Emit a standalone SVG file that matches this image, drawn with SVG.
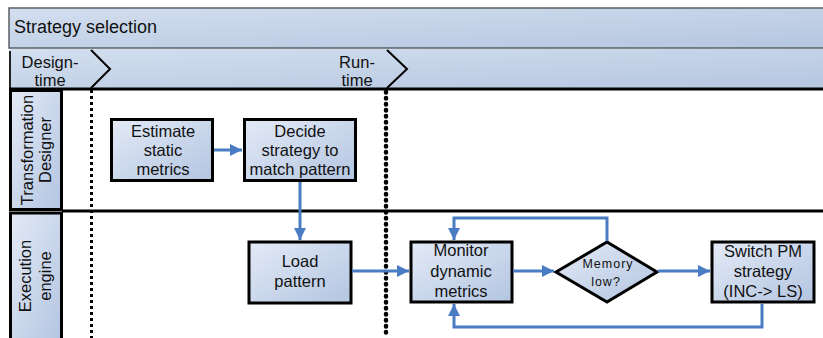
<svg xmlns="http://www.w3.org/2000/svg" width="823" height="338" viewBox="0 0 823 338">
  <defs>
    <linearGradient id="barFill" x1="0" y1="0" x2="1" y2="1">
      <stop offset="0" stop-color="#d3dfef"/>
      <stop offset="1" stop-color="#b5c6e0"/>
    </linearGradient>
    <linearGradient id="boxFill" x1="0" y1="0" x2="1" y2="1">
      <stop offset="0" stop-color="#e3eaf6"/>
      <stop offset="1" stop-color="#b3c5e1"/>
    </linearGradient>
    <marker id="arrow" viewBox="0 0 10 10" refX="10" refY="5" markerWidth="4" markerHeight="4" orient="auto" markerUnits="strokeWidth">
      <path d="M0,0 L10,5 L0,10 z" fill="#4a7cc4"/>
    </marker>
  </defs>
  <style>
    text { font-family: "Liberation Sans", Arial, sans-serif; fill: #111; }
    .box { fill: url(#boxFill); stroke: #000; stroke-width: 3; }
    .lbl { font-size: 16.5px; text-anchor: middle; }
    .small { font-size: 12.5px; text-anchor: middle; letter-spacing: 1px; }
    .flow { fill: none; stroke: #4a7cc4; stroke-width: 3; marker-end: url(#arrow); }
    .sep { stroke: #000; stroke-width: 3; }
  </style>

  <!-- title bar -->
  <g id="title">
    <rect x="9" y="8" width="820" height="40" fill="url(#barFill)" stroke="#5a5f66" stroke-width="1.5"/>
    <text x="14" y="33" font-size="18">Strategy selection</text>
  </g>

  <!-- phase bar -->
  <g id="phases">
    <rect x="9" y="49" width="820" height="40" fill="url(#barFill)"/>
    <line x1="10" y1="51" x2="10" y2="89" stroke="#222" stroke-width="2"/>
    <polyline points="91,50 110,69 91,88" fill="none" stroke="#000" stroke-width="2"/>
    <polyline points="387,50 407,69 387,88" fill="none" stroke="#000" stroke-width="2"/>
    <line x1="9" y1="89" x2="823" y2="89" class="sep"/>
    <text x="50" y="68" class="lbl">Design-</text>
    <text x="50" y="86" class="lbl">time</text>
    <text x="357" y="68" class="lbl">Run-</text>
    <text x="357" y="86" class="lbl">time</text>
  </g>

  <!-- lanes -->
  <g id="lane-designer">
    <rect x="10.5" y="90.5" width="51" height="119" class="box"/>
    <text transform="translate(33,150) rotate(-90)" class="lbl">Transformation</text>
    <text transform="translate(51,150) rotate(-90)" class="lbl">Designer</text>
  </g>
  <g id="lane-engine">
    <rect x="10.5" y="213" width="51" height="130" class="box"/>
    <text transform="translate(31,276) rotate(-90)" class="lbl">Execution</text>
    <text transform="translate(51,276) rotate(-90)" class="lbl">engine</text>
  </g>
  <line x1="62" y1="211" x2="823" y2="211" class="sep"/>

  <!-- phase boundaries -->
  <line x1="91.5" y1="90" x2="91.5" y2="338" stroke="#000" stroke-width="3" stroke-dasharray="3,3"/>
  <line x1="386" y1="92" x2="386" y2="338" stroke="#000" stroke-width="4.5" stroke-linecap="round" stroke-dasharray="0.5,5.5"/>

  <!-- nodes -->
  <g id="estimate">
    <rect x="111.5" y="119.5" width="101" height="61" class="box"/>
    <text x="163" y="137" class="lbl">Estimate</text>
    <text x="163" y="156" class="lbl">static</text>
    <text x="163" y="175" class="lbl">metrics</text>
  </g>
  <g id="decide">
    <rect x="244.5" y="119.5" width="111" height="61" class="box"/>
    <text x="300" y="137" class="lbl">Decide</text>
    <text x="300" y="156" class="lbl">strategy to</text>
    <text x="300" y="175" class="lbl">match pattern</text>
  </g>
  <g id="load">
    <rect x="249" y="242" width="102" height="61" class="box"/>
    <text x="300" y="267" class="lbl">Load</text>
    <text x="300" y="287" class="lbl">pattern</text>
  </g>
  <g id="monitor">
    <rect x="411" y="242" width="101" height="60" class="box"/>
    <text x="461" y="256" class="lbl">Monitor</text>
    <text x="461" y="277" class="lbl">dynamic</text>
    <text x="461" y="297" class="lbl">metrics</text>
  </g>
  <g id="memory">
    <polygon points="556,272 607,242 657,272 607,302" fill="url(#boxFill)" stroke="#000" stroke-width="3"/>
    <text x="608" y="268" class="small">Memory</text>
    <text x="606" y="286" class="small">low?</text>
  </g>
  <g id="switch">
    <rect x="712" y="242" width="102" height="60" class="box"/>
    <text x="763" y="257" class="lbl">Switch PM</text>
    <text x="763" y="277" class="lbl">strategy</text>
    <text x="763" y="297" class="lbl">(INC-&gt; LS)</text>
  </g>

  <!-- connectors -->
  <g id="connectors">
    <path d="M214,150 H242" class="flow"/>
    <path d="M300,182 V240" class="flow"/>
    <path d="M352,271 H409" class="flow"/>
    <path d="M513,271 H554" class="flow"/>
    <path d="M658,271 H710" class="flow"/>
    <path d="M607,241 V218 H454 V240" class="flow"/>
    <path d="M762,304 V327 H454 V304" class="flow"/>
  </g>
</svg>
